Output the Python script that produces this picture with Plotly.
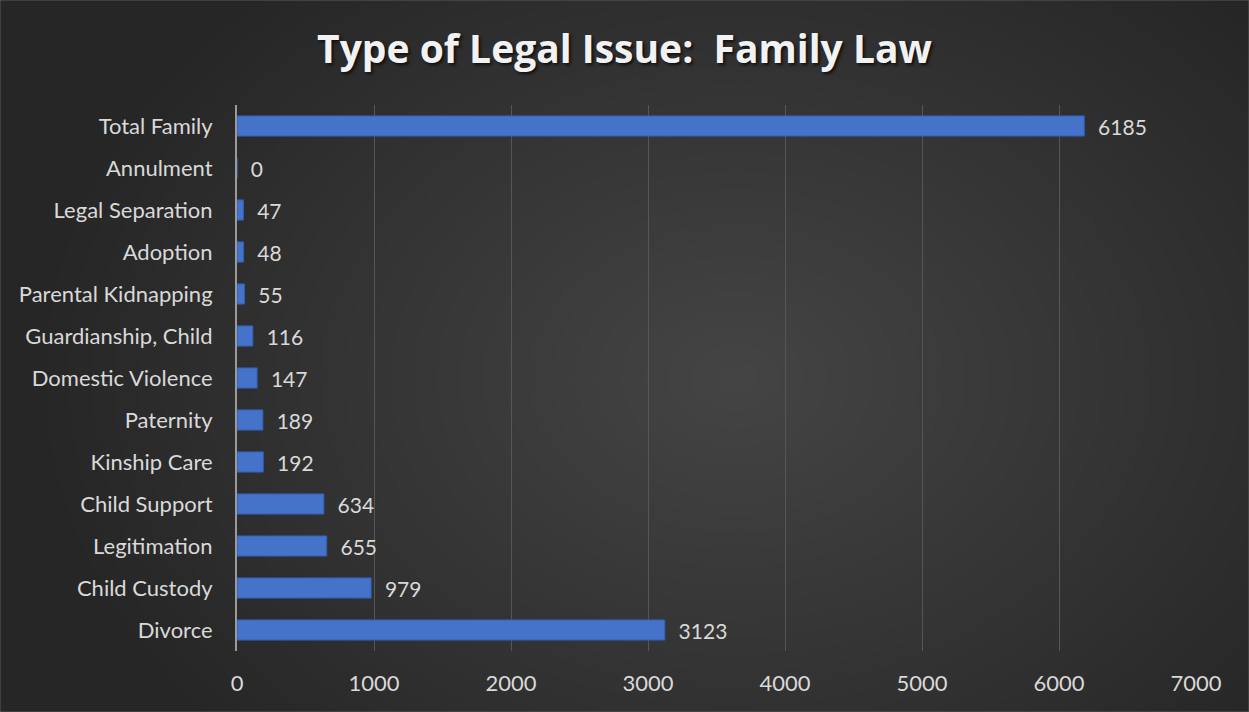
import plotly.graph_objects as go

categories = ["Divorce", "Child Custody", "Legitimation", "Child Support", "Kinship Care",
              "Paternity", "Domestic Violence", "Guardianship, Child", "Parental Kidnapping",
              "Adoption", "Legal Separation", "Annulment", "Total Family"]
values = [3123, 979, 655, 634, 192, 189, 147, 116, 55, 48, 47, 0, 6185]
x_ticks = [0, 1000, 2000, 3000, 4000, 5000, 6000, 7000]

W, H = 1249, 712
fig = go.Figure()
fig.add_trace(go.Bar(
    y=categories, x=values, orientation="h",
    marker=dict(color="#4573c9", line=dict(color="#2f5db5", width=1)),
    text=["  " + str(v) for v in values], textposition="outside",
    constraintext="none",
    textfont=dict(color="#d9d9d9", size=21, family="Lato"),
    cliponaxis=False, width=0.48,
))

# radial-ish background glow
shapes = []
n = 30
for i in range(n):
    f = 1 - i / n
    shapes.append(dict(type="circle", xref="paper", yref="paper", layer="below",
                       x0=0.52 - 0.72 * f, x1=0.52 + 0.72 * f,
                       y0=0.5 - 0.95 * f, y1=0.5 + 0.95 * f,
                       fillcolor="rgba(112,112,112,0.029)", line=dict(width=0)))
shapes.append(dict(type="rect", xref="paper", yref="paper", layer="above",
                   x0=-237 / (W - 290), x1=1 + 53 / (W - 290),
                   y0=-61 / (H - 166), y1=1 + 105 / (H - 166),
                   line=dict(color="#5a5a5a", width=1), fillcolor="rgba(0,0,0,0)"))

fig.update_layout(
    width=W, height=H,
    paper_bgcolor="#262626", plot_bgcolor="rgba(0,0,0,0)",
    margin=dict(l=237, r=53, t=105, b=61),
    title=dict(text="<b>Type of Legal Issue:  Family Law</b>", x=0.5, xanchor="center",
               y=0.93, yanchor="middle",
               font=dict(family="Open Sans", size=39, color="#f2f2f2",
                         shadow="2px 2px 3px #111111")),
    showlegend=False,
    shapes=shapes,
    xaxis=dict(range=[0, 7000], tickvals=x_ticks, showgrid=True, gridcolor="#565656",
               gridwidth=1, zeroline=False, showline=False,
               tickfont=dict(family="Lato", size=22, color="#d9d9d9"), ticks="",
               ticklabelstandoff=17),
    yaxis=dict(showgrid=False, showline=True, linecolor="#9a9a9a", linewidth=2,
               tickfont=dict(family="Lato", size=22, color="#d9d9d9"), ticks="",
               ticklabelstandoff=18, categoryorder="array", categoryarray=categories),
    bargap=0.5,
)
fig.write_html("out.html", config={"displayModeBar": False},
               post_script="document.body.style.margin='0';document.body.style.padding='0';")
